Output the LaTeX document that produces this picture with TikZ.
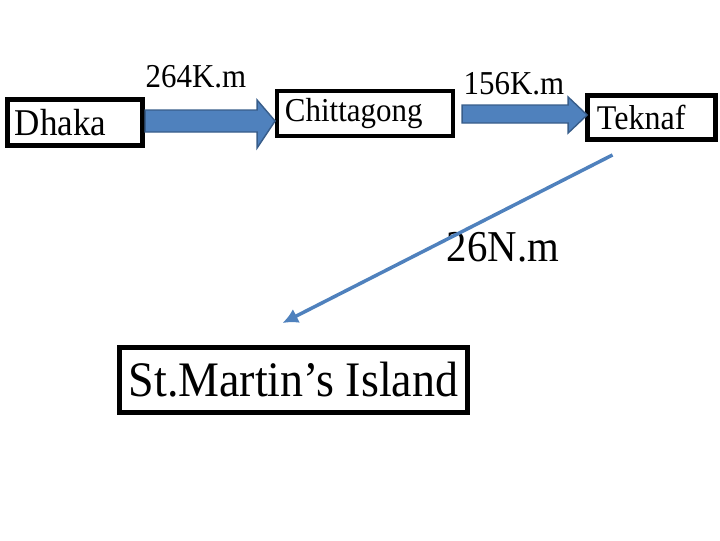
\documentclass[tikz,border=0pt]{standalone}
\usepackage{fontspec}
\setmainfont{Liberation Serif}
\usetikzlibrary{arrows.meta,calc}
\definecolor{arrowblue}{HTML}{4F81BD}
\definecolor{arrowedge}{HTML}{385D8A}
\newcommand{\tallt}[1]{\scalebox{1}[1.08]{#1}}

\begin{document}
\begin{tikzpicture}[x=0.025cm,y=-0.025cm]
\tikzset{place/.style = {draw,line width=3.5pt,inner ysep=0pt,align=left}}
\tikzset{fatarrow/.style = {fill=arrowblue,draw=arrowedge,line width=1pt}}
\tikzset{route/.style = {draw=arrowblue,line width=2.5pt,-{Latex[length=11pt,width=11pt]}}}
\useasboundingbox (0,0) rectangle (720,540);
% places
\node[place,font=\fontsize{24.9}{26}\selectfont,minimum height=1.15cm,
      text width=3cm,inner xsep=0.19cm] (dhaka) at (75,122.5) {\tallt{Dhaka}};
\node[place,line width=3pt,font=\fontsize{22}{24}\selectfont,minimum height=1.125cm,
      text width=4cm,inner xsep=0.2cm] (chit) at (365,113.5) {\tallt{Chittagong}};
\node[place,font=\fontsize{22.8}{24}\selectfont,minimum height=1.1cm,
      text width=2.725cm,inner xsep=0.2375cm] (teknaf) at (651.5,117.5) {\tallt{Teknaf}};
\node[place,font=\fontsize{32.7}{34}\selectfont,minimum height=1.625cm,
      minimum width=8.7cm,inner xsep=0pt,align=center] (island) at (293.5,380) {\tallt{St.Martin’s Island}};

% distances
\node[font=\fontsize{22}{24}\selectfont] (d1) at (196,77) {\tallt{264K.m}};
\node[font=\fontsize{22}{24}\selectfont] (d2) at (514,84) {\tallt{156K.m}};
\node[font=\fontsize{29}{31}\selectfont] (d3) at (503,247) {\tallt{26N.m}};

% arrows
\draw[fatarrow] ($(dhaka.east)+(0,-12.5)$) -- ++(112,0) -- ++(0,-10) -- ++(18,21)
   -- ++(-18,27) -- ++(0,-16) -- ++(-112,0) -- cycle;
\draw[fatarrow] ($(chit.east)+(7,-8.5)$) -- ++(106,0) -- ++(0,-8) -- ++(19,18)
   -- ++(-19,18) -- ++(0,-10) -- ++(-106,0) -- cycle;
\draw[route] ($(teknaf.south)+(-39,13)$) to ($(island.north)+(-11,-22)$);
\end{tikzpicture}
\end{document}
